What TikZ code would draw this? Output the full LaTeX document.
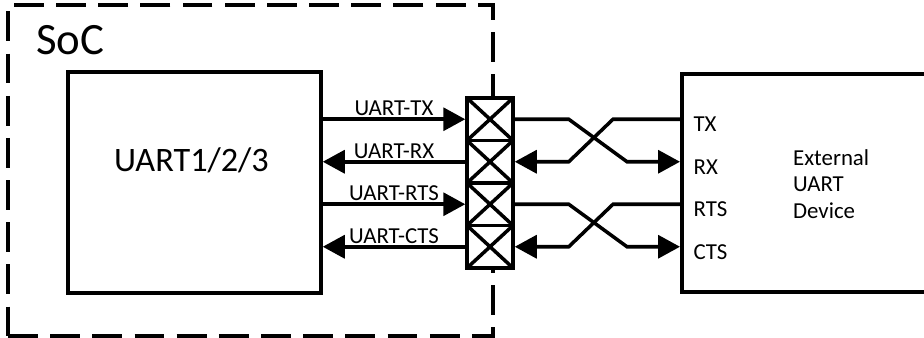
\documentclass[tikz,border=0pt]{standalone}
\usepackage{fontspec}
\setmainfont{Carlito}
\usetikzlibrary{positioning,arrows.meta,calc}

\begin{document}
\begin{tikzpicture}[
blk/.style={draw,line width=2pt,fill=white,inner sep=0pt},
pad/.style={draw,line width=2pt,fill=white,minimum width=9.2mm,minimum height=8.5mm,inner sep=0pt,
  path picture={\draw[line width=2pt] (path picture bounding box.south west) -- (path picture bounding box.north east)
    (path picture bounding box.north west) -- (path picture bounding box.south east);}},
sig/.style={line width=2pt},
arr/.style={sig,-{Triangle[length=4.4mm,width=4.6mm]}},
lbl/.style={font=\fontsize{13}{15}\selectfont,inner sep=1pt}]
\useasboundingbox (0,0) rectangle (18.48,6.76);
\clip (0,0) rectangle (18.48,6.76);
% SoC boundary
\node[draw,dash pattern=on 17pt off 7pt,line width=2pt,minimum width=9.7cm,minimum height=6.62cm,inner sep=0pt] (soc) at (5.01,3.35) {};
\node[font=\fontsize{25.5}{30}\selectfont,anchor=west,inner sep=0pt] (soclbl) at (0.72,5.96) {SoC};
\node[blk,minimum width=5.06cm,minimum height=4.42cm] (uart) at (3.89,3.11) {};
\node[font=\fontsize{19.5}{23}\selectfont] (uartlbl) at (3.83,3.56) {UART1/2/3};
% pads
\foreach \n/\y in {1/4.375,2/3.525,3/2.675,4/1.825}
  \node[pad] (p\n) at (9.8,\y) {};
\draw[arr] (uart.east |- p1) -- node[lbl,above] (ltx) {UART-TX} (p1.west);
\draw[arr] (p2.west) -- node[lbl,above] (lrx) {UART-RX} (uart.east |- p2);
\draw[arr] (uart.east |- p3) -- node[lbl,above] (lrts) {UART-RTS} (p3.west);
\draw[arr] (p4.west) -- node[lbl,above] (lcts) {UART-CTS} (uart.east |- p4);
% external device
\node[blk,minimum width=6cm,minimum height=4.36cm,anchor=north west] (ext) at (13.6,5.32) {};
\node[lbl,anchor=west,align=left] (extlbl) at (15.82,3.08) {External\\UART\\Device};
\node[lbl,anchor=west,yshift=-1mm] (etx) at ([xshift=2.3mm]ext.west |- p1) {TX};
\node[lbl,anchor=west,yshift=-1mm] (erx) at ([xshift=2.3mm]ext.west |- p2) {RX};
\node[lbl,anchor=west,yshift=-1mm] (erts) at ([xshift=2.3mm]ext.west |- p3) {RTS};
\node[lbl,anchor=west,yshift=-1mm] (ects) at ([xshift=2.3mm]ext.west |- p4) {CTS};
% crossed wires
\foreach \a/\b in {1/2,3/4} {
  \draw[arr] (p\a.east) -- ++(1.08,0) -- ($(ext.west |- p\b)+(-1.06,0)$) -- (ext.west |- p\b);
  \draw[arr] (ext.west |- p\a) -- ++(-1.34,0) -- ($(p\b.east)+(1.08,0)$) -- (p\b.east);
}
\end{tikzpicture}
\end{document}
